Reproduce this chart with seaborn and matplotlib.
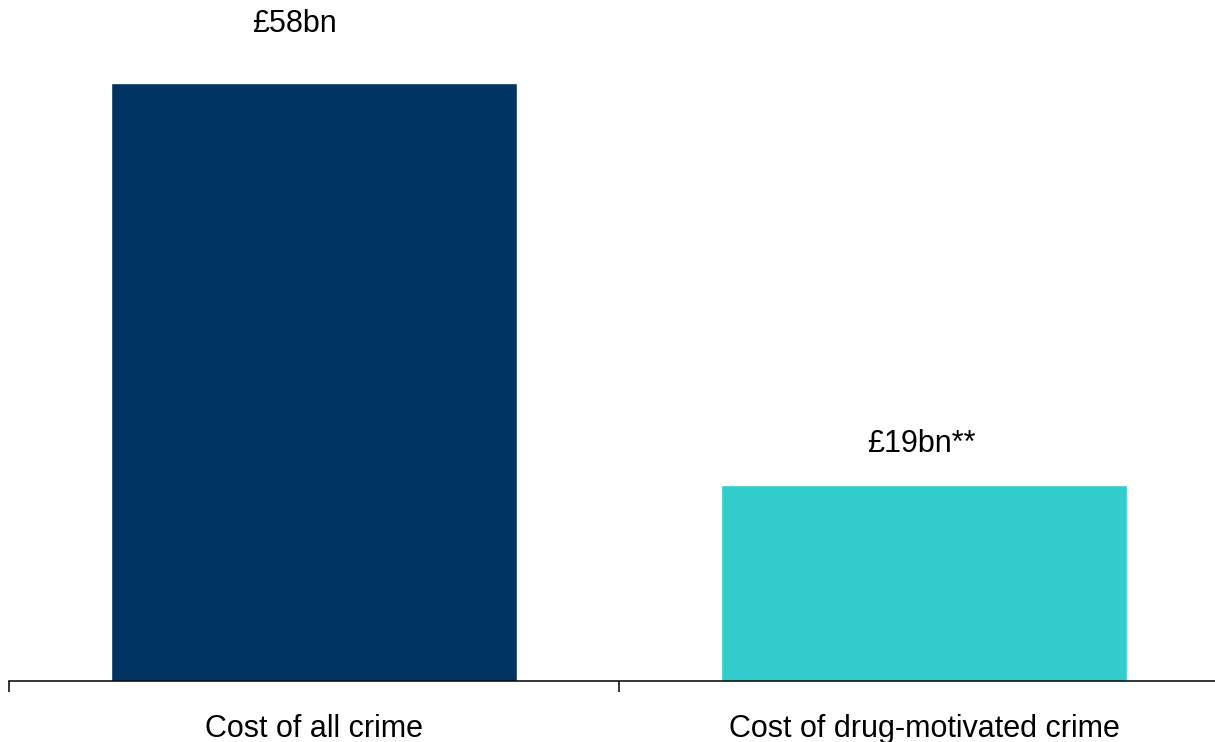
import matplotlib
matplotlib.use('Agg')
import matplotlib.pyplot as plt
import seaborn as sns
import pandas as pd

sns.set_theme(style="white")
plt.rcParams['font.family'] = ['Liberation Sans', 'DejaVu Sans']

# Data
categories = ["Cost of all crime", "Cost of drug-motivated crime"]
costs_bn = [58, 19]
value_labels = ["£58bn", "£19bn**"]
bar_colors = ["#003462", "#33CCCC"]

df = pd.DataFrame({"category": categories, "cost": costs_bn})

fig = plt.figure(figsize=(12.15, 7.42), dpi=100)
W, H = 1215, 742
# axes spans past the right edge, like the original
ax = fig.add_axes([9 / W, (H - 681) / H, 1220 / W, 618.6 / H])

sns.barplot(data=df, x="category", y="cost", hue="category",
            palette=bar_colors, order=categories, width=0.665,
            legend=False, saturation=1, ax=ax)

ax.set_xlim(-0.5, 1.5)
ax.set_ylim(0, 60)

# value labels above bars
label_offsets = [(-14, 36.5), (-2, 24)]
for i, (val, txt) in enumerate(zip(costs_bn, value_labels)):
    ax.annotate(txt, (i, val), xytext=label_offsets[i], textcoords="offset points",
                ha="center", va="baseline", fontsize=22, color="black")

# axes styling
for side in ["left", "top", "right"]:
    ax.spines[side].set_visible(False)
ax.spines["bottom"].set_color("black")
ax.spines["bottom"].set_linewidth(1.1)
ax.set_yticks([])
ax.set_xlabel("")
ax.set_ylabel("")

# category labels at centres, tick marks at boundaries
ax.set_xticks(range(len(categories)))
ax.set_xticklabels(categories, fontsize=22, color="black")
ax.set_xticks([-0.5, 0.5, 1.5], minor=True)
ax.tick_params(axis="x", which="major", length=0, pad=24)
ax.tick_params(axis="x", which="minor", length=8, width=1.1, color="black",
               direction="out", bottom=True)

fig.savefig("out.png", dpi=100, facecolor="white")
